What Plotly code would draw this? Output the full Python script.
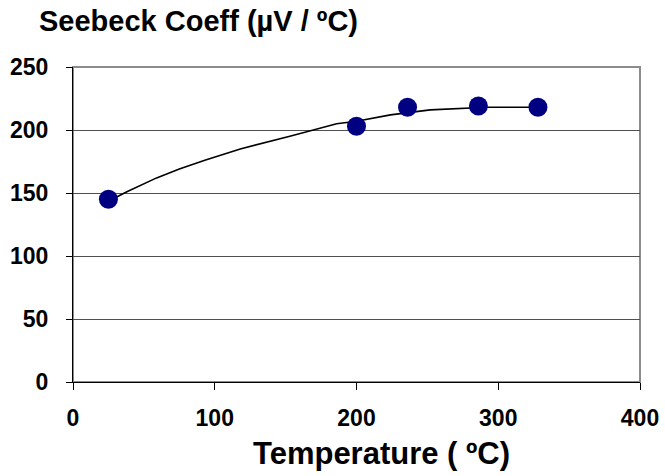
import plotly.graph_objects as go

# Measured data points
temp_c = [25, 200, 236, 286, 328]
seebeck = [145, 203, 218, 219, 218]

# Trend line
trend_x = [26, 38, 59, 75, 93, 118, 153, 169, 186, 200, 224, 252, 271, 292, 328]
trend_y = [144, 151, 162, 169, 176, 185, 195, 200, 205, 207, 212, 216, 217, 218, 218]

x_ticks = [0, 100, 200, 300, 400]
y_ticks = [0, 50, 100, 150, 200, 250]

FONT = "Liberation Sans, Arial, sans-serif"

fig = go.Figure()
fig.add_trace(go.Scatter(x=trend_x, y=trend_y, mode="lines",
                         line=dict(color="black", width=1.6), showlegend=False,
                         hoverinfo="skip"))
fig.add_trace(go.Scatter(x=temp_c, y=seebeck, mode="markers",
                         marker=dict(color="#000080", size=19,
                                     line=dict(color="#000080", width=0)),
                         showlegend=False))

fig.update_layout(
    width=665, height=476,
    margin=dict(l=73, r=25, t=67, b=94),
    paper_bgcolor="white", plot_bgcolor="white",
    font=dict(family=FONT, color="black"),
    xaxis=dict(range=[0, 400], tickvals=x_ticks, showgrid=False,
               showline=True, linecolor="black", linewidth=1.2,
               ticks="outside", ticklen=7, tickcolor="black",
               ticklabelstandoff=8, automargin=False,
               tickfont=dict(family=FONT, size=23, color="black", weight="bold"),
               zeroline=False, fixedrange=True),
    yaxis=dict(range=[0, 250], tickvals=y_ticks, showgrid=True,
               gridcolor="#505050", gridwidth=1,
               showline=True, linecolor="black", linewidth=1.2,
               ticks="outside", ticklen=6, tickcolor="black",
               ticklabelstandoff=13, automargin=False,
               tickfont=dict(family=FONT, size=23, color="black", weight="bold"),
               zeroline=False, fixedrange=True),
    shapes=[dict(type="rect", xref="paper", yref="paper", x0=0, x1=1, y0=0, y1=1,
                 line=dict(color="#8c8c8c", width=2), layer="below")],
    annotations=[
        dict(text="<b>Seebeck Coeff (µV / ºC)</b>", xref="paper", yref="paper",
             x=(37 - 73) / 567, y=1 + (67 - 21) / 315, xanchor="left", yanchor="middle",
             showarrow=False, font=dict(family=FONT, size=29, color="black")),
        dict(text="<b>Temperature ( ºC)</b>", xref="paper", yref="paper",
             x=(381 - 73) / 567, y=-(453 - 382) / 315, xanchor="center", yanchor="middle",
             showarrow=False, font=dict(family=FONT, size=31, color="black")),
    ],
)

# remove the browser's default 8px body margin so the figure sits at the page origin
fig.write_html("out.html",
               config={"displayModeBar": False},
               post_script="document.body.style.margin='0';document.body.style.overflow='hidden';")
